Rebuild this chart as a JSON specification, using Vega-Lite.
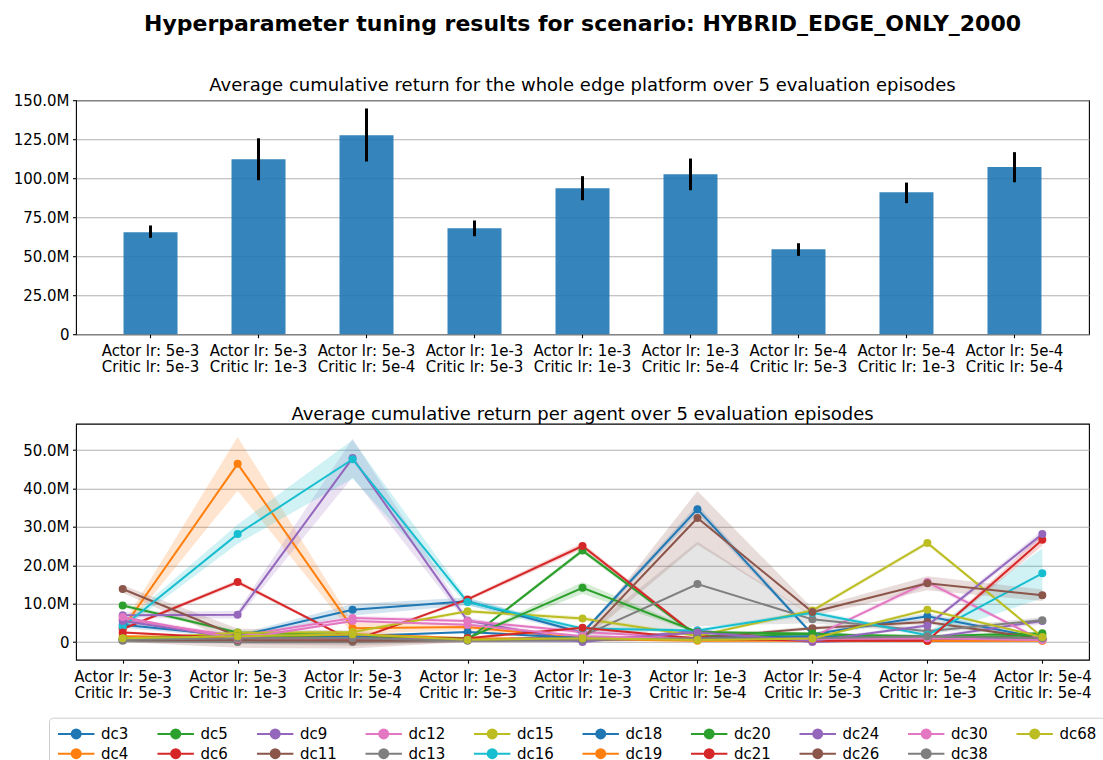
{
  "$schema": "https://vega.github.io/schema/vega-lite/v6.json",
  "padding": {"left": 2, "top": 12.2, "right": 5, "bottom": 5},
  "background": "white",
  "config": {
    "font": "DejaVu Sans",
    "view": {"stroke": "black", "strokeWidth": 1.1},
    "axis": {"labelFont": "DejaVu Sans", "labelFontSize": 15, "labelColor": "black", "tickColor": "black", "tickSize": 3.5, "tickWidth": 1.1, "domain": false, "labelPadding": 3.5, "gridColor": "#b0b0b0", "gridWidth": 1.1, "labelOverlap": false},
    "axisX": {"grid": false, "labelAngle": 0, "labelPadding": 6, "labelLineHeight": 16, "labelExpr": "['Actor lr: ' + split(datum.label,'/')[0], 'Critic lr: ' + split(datum.label,'/')[1]]"},
    "axisY": {"minExtent": 73, "maxExtent": 73, "zindex": 1},
    "title": {"font": "DejaVu Sans", "color": "black"},
    "legend": {"labelFontSize": 15, "labelFont": "DejaVu Sans", "labelColor": "black"}
  },
  "resolve": {"scale": {"color": "independent"}, "legend": {"color": "independent"}},
  "datasets": {
    "overall": [
      {"cfg": "5e-3/5e-3", "mean": 65.4, "lo": 61.8, "hi": 69.7},
      {"cfg": "5e-3/1e-3", "mean": 112.2, "lo": 98.7, "hi": 125.6},
      {"cfg": "5e-3/5e-4", "mean": 127.6, "lo": 110.7, "hi": 144.7},
      {"cfg": "1e-3/5e-3", "mean": 67.9, "lo": 62.8, "hi": 72.9},
      {"cfg": "1e-3/1e-3", "mean": 93.6, "lo": 85.9, "hi": 101.3},
      {"cfg": "1e-3/5e-4", "mean": 102.6, "lo": 92.3, "hi": 112.6},
      {"cfg": "5e-4/5e-3", "mean": 54.5, "lo": 50.2, "hi": 58.3},
      {"cfg": "5e-4/1e-3", "mean": 91.0, "lo": 84.0, "hi": 97.2},
      {"cfg": "5e-4/5e-4", "mean": 107.1, "lo": 97.4, "hi": 116.7}
    ],
    "agents": [
      {"s": "dc3", "cfg": "5e-3/5e-3", "v": 4.5, "lo": 3.7, "hi": 5.3},
      {"s": "dc3", "cfg": "5e-3/1e-3", "v": 1.5, "lo": 1.0, "hi": 2.0},
      {"s": "dc3", "cfg": "5e-3/5e-4", "v": 8.4, "lo": 6.9, "hi": 9.9},
      {"s": "dc3", "cfg": "1e-3/5e-3", "v": 10.6, "lo": 9.6, "hi": 11.6},
      {"s": "dc3", "cfg": "1e-3/1e-3", "v": 2.4, "lo": 1.9, "hi": 2.9},
      {"s": "dc3", "cfg": "1e-3/5e-4", "v": 34.6, "lo": 33.4, "hi": 35.8},
      {"s": "dc3", "cfg": "5e-4/5e-3", "v": 2.0, "lo": 1.5, "hi": 2.5},
      {"s": "dc3", "cfg": "5e-4/1e-3", "v": 6.7, "lo": 5.9, "hi": 7.5},
      {"s": "dc3", "cfg": "5e-4/5e-4", "v": 1.0, "lo": 0.7, "hi": 1.3},

      {"s": "dc4", "cfg": "5e-3/5e-3", "v": 3.5, "lo": 2.5, "hi": 4.5},
      {"s": "dc4", "cfg": "5e-3/1e-3", "v": 46.4, "lo": 39.4, "hi": 53.4},
      {"s": "dc4", "cfg": "5e-3/5e-4", "v": 3.6, "lo": 2.1, "hi": 5.1},
      {"s": "dc4", "cfg": "1e-3/5e-3", "v": 3.9, "lo": 3.1, "hi": 4.7},
      {"s": "dc4", "cfg": "1e-3/1e-3", "v": 1.0, "lo": 0.5, "hi": 1.5},
      {"s": "dc4", "cfg": "1e-3/5e-4", "v": 0.5, "lo": 0.2, "hi": 0.8},
      {"s": "dc4", "cfg": "5e-4/5e-3", "v": 0.8, "lo": 0.5, "hi": 1.1},
      {"s": "dc4", "cfg": "5e-4/1e-3", "v": 0.5, "lo": 0.2, "hi": 0.8},
      {"s": "dc4", "cfg": "5e-4/5e-4", "v": 0.8, "lo": 0.5, "hi": 1.1},

      {"s": "dc5", "cfg": "5e-3/5e-3", "v": 9.5, "lo": 9.0, "hi": 10.0},
      {"s": "dc5", "cfg": "5e-3/1e-3", "v": 2.5, "lo": 2.0, "hi": 3.0},
      {"s": "dc5", "cfg": "5e-3/5e-4", "v": 1.7, "lo": 1.2, "hi": 2.2},
      {"s": "dc5", "cfg": "1e-3/5e-3", "v": 0.6, "lo": 0.3, "hi": 0.9},
      {"s": "dc5", "cfg": "1e-3/1e-3", "v": 23.8, "lo": 23.2, "hi": 24.4},
      {"s": "dc5", "cfg": "1e-3/5e-4", "v": 1.5, "lo": 1.0, "hi": 2.0},
      {"s": "dc5", "cfg": "5e-4/5e-3", "v": 2.0, "lo": 1.6, "hi": 2.4},
      {"s": "dc5", "cfg": "5e-4/1e-3", "v": 1.5, "lo": 1.1, "hi": 1.9},
      {"s": "dc5", "cfg": "5e-4/5e-4", "v": 2.3, "lo": 1.9, "hi": 2.7},

      {"s": "dc6", "cfg": "5e-3/5e-3", "v": 3.4, "lo": 3.0, "hi": 3.8},
      {"s": "dc6", "cfg": "5e-3/1e-3", "v": 15.6, "lo": 15.0, "hi": 16.2},
      {"s": "dc6", "cfg": "5e-3/5e-4", "v": 0.3, "lo": 0.0, "hi": 0.6},
      {"s": "dc6", "cfg": "1e-3/5e-3", "v": 11.1, "lo": 10.6, "hi": 11.6},
      {"s": "dc6", "cfg": "1e-3/1e-3", "v": 25.0, "lo": 24.2, "hi": 25.8},
      {"s": "dc6", "cfg": "1e-3/5e-4", "v": 1.5, "lo": 1.1, "hi": 1.9},
      {"s": "dc6", "cfg": "5e-4/5e-3", "v": 0.4, "lo": 0.1, "hi": 0.7},
      {"s": "dc6", "cfg": "5e-4/1e-3", "v": 0.35, "lo": 0.05, "hi": 0.65},
      {"s": "dc6", "cfg": "5e-4/5e-4", "v": 0.5, "lo": 0.2, "hi": 0.8},

      {"s": "dc9", "cfg": "5e-3/5e-3", "v": 7.0, "lo": 6.2, "hi": 7.8},
      {"s": "dc9", "cfg": "5e-3/1e-3", "v": 7.1, "lo": 6.1, "hi": 8.1},
      {"s": "dc9", "cfg": "5e-3/5e-4", "v": 47.9, "lo": 42.9, "hi": 52.9},
      {"s": "dc9", "cfg": "1e-3/5e-3", "v": 5.6, "lo": 4.8, "hi": 6.4},
      {"s": "dc9", "cfg": "1e-3/1e-3", "v": 0.0, "lo": -0.3, "hi": 0.3},
      {"s": "dc9", "cfg": "1e-3/5e-4", "v": 3.0, "lo": 2.6, "hi": 3.4},
      {"s": "dc9", "cfg": "5e-4/5e-3", "v": 0.0, "lo": -0.3, "hi": 0.3},
      {"s": "dc9", "cfg": "5e-4/1e-3", "v": 1.0, "lo": 0.6, "hi": 1.4},
      {"s": "dc9", "cfg": "5e-4/5e-4", "v": 5.5, "lo": 4.7, "hi": 6.3},

      {"s": "dc11", "cfg": "5e-3/5e-3", "v": 13.8, "lo": 12.8, "hi": 14.8},
      {"s": "dc11", "cfg": "5e-3/1e-3", "v": 1.5, "lo": -0.5, "hi": 3.5},
      {"s": "dc11", "cfg": "5e-3/5e-4", "v": 1.0, "lo": -1.0, "hi": 3.0},
      {"s": "dc11", "cfg": "1e-3/5e-3", "v": 0.5, "lo": 0.0, "hi": 1.0},
      {"s": "dc11", "cfg": "1e-3/1e-3", "v": 0.5, "lo": 0.0, "hi": 1.0},
      {"s": "dc11", "cfg": "1e-3/5e-4", "v": 1.0, "lo": 0.5, "hi": 1.5},
      {"s": "dc11", "cfg": "5e-4/5e-3", "v": 3.6, "lo": 3.1, "hi": 4.1},
      {"s": "dc11", "cfg": "5e-4/1e-3", "v": 5.2, "lo": 4.6, "hi": 5.8},
      {"s": "dc11", "cfg": "5e-4/5e-4", "v": 0.8, "lo": 0.4, "hi": 1.2},

      {"s": "dc12", "cfg": "5e-3/5e-3", "v": 5.9, "lo": 5.3, "hi": 6.5},
      {"s": "dc12", "cfg": "5e-3/1e-3", "v": 1.5, "lo": 1.0, "hi": 2.0},
      {"s": "dc12", "cfg": "5e-3/5e-4", "v": 6.25, "lo": 5.65, "hi": 6.85},
      {"s": "dc12", "cfg": "1e-3/5e-3", "v": 5.5, "lo": 5.0, "hi": 6.0},
      {"s": "dc12", "cfg": "1e-3/1e-3", "v": 2.6, "lo": 2.1, "hi": 3.1},
      {"s": "dc12", "cfg": "1e-3/5e-4", "v": 1.0, "lo": 0.6, "hi": 1.4},
      {"s": "dc12", "cfg": "5e-4/5e-3", "v": 1.3, "lo": 0.9, "hi": 1.7},
      {"s": "dc12", "cfg": "5e-4/1e-3", "v": 15.6, "lo": 14.8, "hi": 16.4},
      {"s": "dc12", "cfg": "5e-4/5e-4", "v": 0.4, "lo": 0.1, "hi": 0.7},

      {"s": "dc13", "cfg": "5e-3/5e-3", "v": 0.3, "lo": 0.0, "hi": 0.6},
      {"s": "dc13", "cfg": "5e-3/1e-3", "v": 0.0, "lo": -0.5, "hi": 0.5},
      {"s": "dc13", "cfg": "5e-3/5e-4", "v": 0.0, "lo": -0.5, "hi": 0.5},
      {"s": "dc13", "cfg": "1e-3/5e-3", "v": 0.5, "lo": 0.2, "hi": 0.8},
      {"s": "dc13", "cfg": "1e-3/1e-3", "v": 1.5, "lo": 1.0, "hi": 2.0},
      {"s": "dc13", "cfg": "1e-3/5e-4", "v": 15.1, "lo": 4.1, "hi": 26.1},
      {"s": "dc13", "cfg": "5e-4/5e-3", "v": 5.9, "lo": 4.9, "hi": 6.9},
      {"s": "dc13", "cfg": "5e-4/1e-3", "v": 2.8, "lo": 2.2, "hi": 3.4},
      {"s": "dc13", "cfg": "5e-4/5e-4", "v": 5.7, "lo": 4.9, "hi": 6.5},

      {"s": "dc15", "cfg": "5e-3/5e-3", "v": 0.7, "lo": 0.4, "hi": 1.0},
      {"s": "dc15", "cfg": "5e-3/1e-3", "v": 2.4, "lo": 2.0, "hi": 2.8},
      {"s": "dc15", "cfg": "5e-3/5e-4", "v": 2.6, "lo": 2.2, "hi": 3.0},
      {"s": "dc15", "cfg": "1e-3/5e-3", "v": 8.0, "lo": 7.5, "hi": 8.5},
      {"s": "dc15", "cfg": "1e-3/1e-3", "v": 6.1, "lo": 5.5, "hi": 6.7},
      {"s": "dc15", "cfg": "1e-3/5e-4", "v": 1.6, "lo": 1.2, "hi": 2.0},
      {"s": "dc15", "cfg": "5e-4/5e-3", "v": 8.2, "lo": 7.7, "hi": 8.7},
      {"s": "dc15", "cfg": "5e-4/1e-3", "v": 25.8, "lo": 25.2, "hi": 26.4},
      {"s": "dc15", "cfg": "5e-4/5e-4", "v": 1.3, "lo": 1.0, "hi": 1.6},

      {"s": "dc16", "cfg": "5e-3/5e-3", "v": 4.0, "lo": 3.2, "hi": 4.8},
      {"s": "dc16", "cfg": "5e-3/1e-3", "v": 28.1, "lo": 25.6, "hi": 30.6},
      {"s": "dc16", "cfg": "5e-3/5e-4", "v": 47.6, "lo": 42.6, "hi": 52.6},
      {"s": "dc16", "cfg": "1e-3/5e-3", "v": 10.4, "lo": 9.6, "hi": 11.2},
      {"s": "dc16", "cfg": "1e-3/1e-3", "v": 3.5, "lo": 3.0, "hi": 4.0},
      {"s": "dc16", "cfg": "1e-3/5e-4", "v": 3.0, "lo": 2.5, "hi": 3.5},
      {"s": "dc16", "cfg": "5e-4/5e-3", "v": 7.6, "lo": 7.0, "hi": 8.2},
      {"s": "dc16", "cfg": "5e-4/1e-3", "v": 1.8, "lo": 1.3, "hi": 2.3},
      {"s": "dc16", "cfg": "5e-4/5e-4", "v": 17.9, "lo": 11.4, "hi": 24.4},

      {"s": "dc18", "cfg": "5e-3/5e-3", "v": 0.5, "lo": 0.2, "hi": 0.8},
      {"s": "dc18", "cfg": "5e-3/1e-3", "v": 1.0, "lo": 0.7, "hi": 1.3},
      {"s": "dc18", "cfg": "5e-3/5e-4", "v": 1.5, "lo": 1.2, "hi": 1.8},
      {"s": "dc18", "cfg": "1e-3/5e-3", "v": 2.6, "lo": 2.3, "hi": 2.9},
      {"s": "dc18", "cfg": "1e-3/1e-3", "v": 1.0, "lo": 0.7, "hi": 1.3},
      {"s": "dc18", "cfg": "1e-3/5e-4", "v": 1.0, "lo": 0.7, "hi": 1.3},
      {"s": "dc18", "cfg": "5e-4/5e-3", "v": 1.5, "lo": 1.2, "hi": 1.8},
      {"s": "dc18", "cfg": "5e-4/1e-3", "v": 1.0, "lo": 0.7, "hi": 1.3},
      {"s": "dc18", "cfg": "5e-4/5e-4", "v": 0.6, "lo": 0.3, "hi": 0.9},

      {"s": "dc19", "cfg": "5e-3/5e-3", "v": 1.5, "lo": 1.2, "hi": 1.8},
      {"s": "dc19", "cfg": "5e-3/1e-3", "v": 1.2, "lo": 0.9, "hi": 1.5},
      {"s": "dc19", "cfg": "5e-3/5e-4", "v": 2.0, "lo": 1.7, "hi": 2.3},
      {"s": "dc19", "cfg": "1e-3/5e-3", "v": 1.0, "lo": 0.7, "hi": 1.3},
      {"s": "dc19", "cfg": "1e-3/1e-3", "v": 0.8, "lo": 0.5, "hi": 1.1},
      {"s": "dc19", "cfg": "1e-3/5e-4", "v": 0.3, "lo": 0.0, "hi": 0.6},
      {"s": "dc19", "cfg": "5e-4/5e-3", "v": 0.4, "lo": 0.1, "hi": 0.7},
      {"s": "dc19", "cfg": "5e-4/1e-3", "v": 0.3, "lo": 0.0, "hi": 0.6},
      {"s": "dc19", "cfg": "5e-4/5e-4", "v": 0.3, "lo": 0.0, "hi": 0.6},

      {"s": "dc20", "cfg": "5e-3/5e-3", "v": 1.0, "lo": 0.7, "hi": 1.3},
      {"s": "dc20", "cfg": "5e-3/1e-3", "v": 1.5, "lo": 1.2, "hi": 1.8},
      {"s": "dc20", "cfg": "5e-3/5e-4", "v": 1.0, "lo": 0.7, "hi": 1.3},
      {"s": "dc20", "cfg": "1e-3/5e-3", "v": 1.0, "lo": 0.7, "hi": 1.3},
      {"s": "dc20", "cfg": "1e-3/1e-3", "v": 14.1, "lo": 12.6, "hi": 15.6},
      {"s": "dc20", "cfg": "1e-3/5e-4", "v": 2.6, "lo": 2.2, "hi": 3.0},
      {"s": "dc20", "cfg": "5e-4/5e-3", "v": 2.2, "lo": 1.9, "hi": 2.5},
      {"s": "dc20", "cfg": "5e-4/1e-3", "v": 1.0, "lo": 0.7, "hi": 1.3},
      {"s": "dc20", "cfg": "5e-4/5e-4", "v": 1.8, "lo": 1.5, "hi": 2.1},

      {"s": "dc21", "cfg": "5e-3/5e-3", "v": 2.5, "lo": 2.2, "hi": 2.8},
      {"s": "dc21", "cfg": "5e-3/1e-3", "v": 1.0, "lo": 0.7, "hi": 1.3},
      {"s": "dc21", "cfg": "5e-3/5e-4", "v": 0.8, "lo": 0.5, "hi": 1.1},
      {"s": "dc21", "cfg": "1e-3/5e-3", "v": 1.0, "lo": 0.7, "hi": 1.3},
      {"s": "dc21", "cfg": "1e-3/1e-3", "v": 3.7, "lo": 3.3, "hi": 4.1},
      {"s": "dc21", "cfg": "1e-3/5e-4", "v": 0.9, "lo": 0.6, "hi": 1.2},
      {"s": "dc21", "cfg": "5e-4/5e-3", "v": 0.3, "lo": 0.0, "hi": 0.6},
      {"s": "dc21", "cfg": "5e-4/1e-3", "v": 0.35, "lo": 0.05, "hi": 0.65},
      {"s": "dc21", "cfg": "5e-4/5e-4", "v": 26.6, "lo": 25.1, "hi": 28.1},

      {"s": "dc24", "cfg": "5e-3/5e-3", "v": 5.5, "lo": 5.0, "hi": 6.0},
      {"s": "dc24", "cfg": "5e-3/1e-3", "v": 1.0, "lo": 0.7, "hi": 1.3},
      {"s": "dc24", "cfg": "5e-3/5e-4", "v": 1.0, "lo": 0.7, "hi": 1.3},
      {"s": "dc24", "cfg": "1e-3/5e-3", "v": 0.5, "lo": 0.2, "hi": 0.8},
      {"s": "dc24", "cfg": "1e-3/1e-3", "v": 0.3, "lo": 0.0, "hi": 0.6},
      {"s": "dc24", "cfg": "1e-3/5e-4", "v": 2.5, "lo": 2.2, "hi": 2.8},
      {"s": "dc24", "cfg": "5e-4/5e-3", "v": 0.3, "lo": 0.0, "hi": 0.6},
      {"s": "dc24", "cfg": "5e-4/1e-3", "v": 4.3, "lo": 3.8, "hi": 4.8},
      {"s": "dc24", "cfg": "5e-4/5e-4", "v": 28.1, "lo": 27.1, "hi": 29.1},

      {"s": "dc26", "cfg": "5e-3/5e-3", "v": 0.5, "lo": 0.0, "hi": 1.0},
      {"s": "dc26", "cfg": "5e-3/1e-3", "v": 0.5, "lo": -1.5, "hi": 2.5},
      {"s": "dc26", "cfg": "5e-3/5e-4", "v": 0.3, "lo": -1.7, "hi": 2.3},
      {"s": "dc26", "cfg": "1e-3/5e-3", "v": 0.5, "lo": 0.0, "hi": 1.0},
      {"s": "dc26", "cfg": "1e-3/1e-3", "v": 0.8, "lo": 0.3, "hi": 1.3},
      {"s": "dc26", "cfg": "1e-3/5e-4", "v": 32.3, "lo": 25.3, "hi": 39.3},
      {"s": "dc26", "cfg": "5e-4/5e-3", "v": 7.8, "lo": 6.8, "hi": 8.8},
      {"s": "dc26", "cfg": "5e-4/1e-3", "v": 15.3, "lo": 13.5, "hi": 17.1},
      {"s": "dc26", "cfg": "5e-4/5e-4", "v": 12.2, "lo": 10.7, "hi": 13.7},

      {"s": "dc30", "cfg": "5e-3/5e-3", "v": 6.5, "lo": 6.2, "hi": 6.8},
      {"s": "dc30", "cfg": "5e-3/1e-3", "v": 0.8, "lo": 0.5, "hi": 1.1},
      {"s": "dc30", "cfg": "5e-3/5e-4", "v": 5.5, "lo": 5.2, "hi": 5.8},
      {"s": "dc30", "cfg": "1e-3/5e-3", "v": 4.5, "lo": 4.2, "hi": 4.8},
      {"s": "dc30", "cfg": "1e-3/1e-3", "v": 1.5, "lo": 1.2, "hi": 1.8},
      {"s": "dc30", "cfg": "1e-3/5e-4", "v": 0.8, "lo": 0.5, "hi": 1.1},
      {"s": "dc30", "cfg": "5e-4/5e-3", "v": 0.8, "lo": 0.5, "hi": 1.1},
      {"s": "dc30", "cfg": "5e-4/1e-3", "v": 1.0, "lo": 0.7, "hi": 1.3},
      {"s": "dc30", "cfg": "5e-4/5e-4", "v": 0.5, "lo": 0.2, "hi": 0.8},

      {"s": "dc38", "cfg": "5e-3/5e-3", "v": 0.5, "lo": 0.2, "hi": 0.8},
      {"s": "dc38", "cfg": "5e-3/1e-3", "v": 1.0, "lo": 0.7, "hi": 1.3},
      {"s": "dc38", "cfg": "5e-3/5e-4", "v": 1.0, "lo": 0.7, "hi": 1.3},
      {"s": "dc38", "cfg": "1e-3/5e-3", "v": 0.3, "lo": 0.0, "hi": 0.6},
      {"s": "dc38", "cfg": "1e-3/1e-3", "v": 0.5, "lo": 0.2, "hi": 0.8},
      {"s": "dc38", "cfg": "1e-3/5e-4", "v": 1.0, "lo": 0.7, "hi": 1.3},
      {"s": "dc38", "cfg": "5e-4/5e-3", "v": 1.0, "lo": 0.7, "hi": 1.3},
      {"s": "dc38", "cfg": "5e-4/1e-3", "v": 1.5, "lo": 1.2, "hi": 1.8},
      {"s": "dc38", "cfg": "5e-4/5e-4", "v": 1.0, "lo": 0.7, "hi": 1.3},

      {"s": "dc68", "cfg": "5e-3/5e-3", "v": 1.0, "lo": 0.7, "hi": 1.3},
      {"s": "dc68", "cfg": "5e-3/1e-3", "v": 1.5, "lo": 1.2, "hi": 1.8},
      {"s": "dc68", "cfg": "5e-3/5e-4", "v": 2.0, "lo": 1.7, "hi": 2.3},
      {"s": "dc68", "cfg": "1e-3/5e-3", "v": 0.6, "lo": 0.3, "hi": 0.9},
      {"s": "dc68", "cfg": "1e-3/1e-3", "v": 1.0, "lo": 0.7, "hi": 1.3},
      {"s": "dc68", "cfg": "1e-3/5e-4", "v": 0.5, "lo": 0.2, "hi": 0.8},
      {"s": "dc68", "cfg": "5e-4/5e-3", "v": 0.9, "lo": 0.6, "hi": 1.2},
      {"s": "dc68", "cfg": "5e-4/1e-3", "v": 8.4, "lo": 7.9, "hi": 8.9},
      {"s": "dc68", "cfg": "5e-4/5e-4", "v": 1.3, "lo": 1.0, "hi": 1.6}
    ]
  },
  "vconcat": [
    {
      "width": 1013,
      "height": 234,
      "data": {"name": "overall"},
      "title": {
        "text": "Hyperparameter tuning results for scenario: HYBRID_EDGE_ONLY_2000",
        "subtitle": "Average cumulative return for the whole edge platform over 5 evaluation episodes",
        "fontSize": 22,
        "fontWeight": "bold",
        "subtitleFontSize": 18,
        "subtitleFontWeight": "normal",
        "subtitleColor": "black",
        "subtitleFont": "DejaVu Sans",
        "subtitlePadding": 40.5,
        "offset": -2.5,
        "anchor": "middle",
        "frame": "group"
      },
      "encoding": {
        "x": {
          "field": "cfg", "type": "nominal",
          "sort": ["5e-3/5e-3","5e-3/1e-3","5e-3/5e-4","1e-3/5e-3","1e-3/1e-3","1e-3/5e-4","5e-4/5e-3","5e-4/1e-3","5e-4/5e-4"],
          "scale": {"paddingInner": 0.5, "paddingOuter": 0.44},
          "axis": {"title": null}
        },
        "y": {"field": "mean", "type": "quantitative", "scale": {"domain": [0, 150], "nice": false},
              "axis": {"title": null, "values": [0, 25, 50, 75, 100, 125, 150], "tickCount": 7, "labelOverlap": false, "labelExpr": "datum.value == 0 ? '0' : format(datum.value, '.1f') + 'M'"}}
      },
      "layer": [
        {
          "mark": {"type": "bar", "color": "#1f77b4", "opacity": 0.9}
        },
        {
          "mark": {"type": "rule", "color": "black", "strokeWidth": 3},
          "encoding": {
            "y": {"field": "lo", "type": "quantitative", "scale": {"domain": [0, 150], "nice": false},
                  "axis": {"title": null, "values": [0, 25, 50, 75, 100, 125, 150], "tickCount": 7, "labelOverlap": false, "labelExpr": "datum.value == 0 ? '0' : format(datum.value, '.1f') + 'M'"}},
            "y2": {"field": "hi"}
          }
        }
      ]
    },
    {
      "width": 1013,
      "height": 236,
      "data": {"name": "agents"},
      "title": {
        "text": "Average cumulative return per agent over 5 evaluation episodes",
        "fontSize": 18,
        "fontWeight": "normal",
        "offset": -0.5,
        "anchor": "middle",
        "frame": "group"
      },
      "encoding": {
        "x": {
          "field": "cfg", "type": "nominal",
          "sort": ["5e-3/5e-3","5e-3/1e-3","5e-3/5e-4","1e-3/5e-3","1e-3/1e-3","1e-3/5e-4","5e-4/5e-3","5e-4/1e-3","5e-4/5e-4"],
          "scale": {"type": "point", "padding": 0.406},
          "axis": {"title": null}
        },
        "color": {"field": "s", "type": "nominal",
          "scale": {
            "domain": ["dc3","dc4","dc5","dc6","dc9","dc11","dc12","dc13","dc15","dc16","dc18","dc19","dc20","dc21","dc24","dc26","dc30","dc38","dc68"],
            "range": ["#1f77b4","#ff7f0e","#2ca02c","#d62728","#9467bd","#8c564b","#e377c2","#7f7f7f","#bcbd22","#17becf","#1f77b4","#ff7f0e","#2ca02c","#d62728","#9467bd","#8c564b","#e377c2","#7f7f7f","#bcbd22"]
          },
          "legend": {
            "orient": "none", "legendX": -27, "legendY": 294, "columns": 10, "title": null,
            "symbolType": "M-1,0H4.2M0.96,0A0.64,0.64 0 1,1 2.24,0A0.64,0.64 0 1,1 0.96,0",
            "symbolSize": 196, "symbolStrokeWidth": 2, "symbolOpacity": 1,
            "columnPadding": 24.5, "rowPadding": 2, "labelOffset": 28,
            "strokeColor": "#cccccc", "cornerRadius": 4, "padding": 8, "fillColor": "white"
          }
        }
      },
      "layer": [
        {
          "mark": {"type": "area", "opacity": 0.2},
          "encoding": {
            "y": {"field": "lo", "type": "quantitative", "scale": {"domain": [-4.6, 56.85], "nice": false, "zero": false},
                  "axis": {"title": null, "values": [0, 10, 20, 30, 40, 50], "labelExpr": "datum.value == 0 ? '0' : format(datum.value, '.1f') + 'M'"}},
            "y2": {"field": "hi"}
          }
        },
        {
          "mark": {"type": "line", "strokeWidth": 2},
          "encoding": {
            "y": {"field": "v", "type": "quantitative"}
          }
        },
        {
          "mark": {"type": "point", "filled": true, "size": 64, "opacity": 1},
          "encoding": {
            "y": {"field": "v", "type": "quantitative"}
          }
        }
      ]
    }
  ],
  "spacing": 28.5
}
